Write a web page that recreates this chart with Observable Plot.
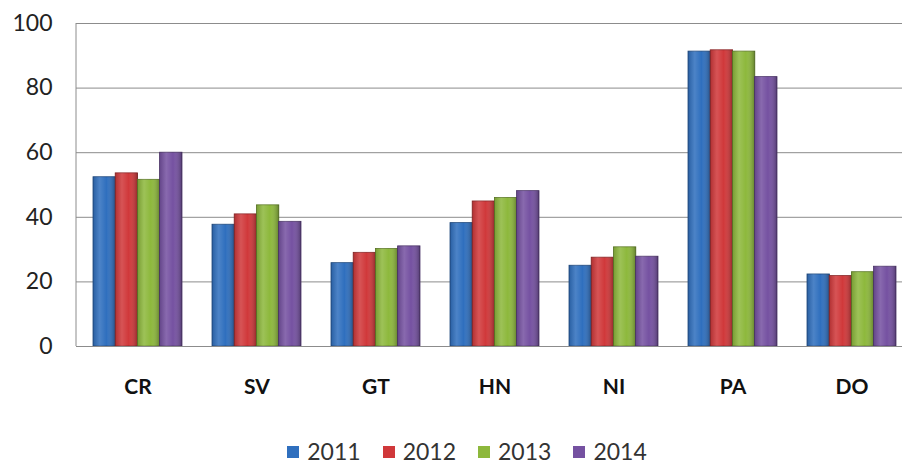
<!DOCTYPE html>
<html>
<head>
<meta charset="utf-8">
<script src="https://cdn.jsdelivr.net/npm/d3@7"></script>
<script src="https://cdn.jsdelivr.net/npm/@observablehq/plot@0.6"></script>
<style>
  body { margin: 0; background: white; overflow: hidden; font-family: Lato, "Open Sans", sans-serif; }
  #legend { display: flex; justify-content: center; gap: 22px; margin-top: 30px; padding-left: 32px; font-size: 23px; color: #333; line-height: 1; }
  #legend span.item { display: flex; align-items: center; gap: 8px; }
  #legend span.sw { width: 12px; height: 12px; display: inline-block; }
</style>
</head>
<body>
<div id="chart"></div>
<div id="legend"></div>
<script>
const countries = ["CR", "SV", "GT", "HN", "NI", "PA", "DO"];
const years = ["2011", "2012", "2013", "2014"];
const colors = ["#2f6fbe", "#d0383a", "#8db83c", "#7551a1"];

const v2011 = [52.4, 37.7, 25.8, 38.2, 25.0, 91.3, 22.3];
const v2012 = [53.6, 40.9, 29.0, 44.9, 27.5, 91.7, 21.8];
const v2013 = [51.6, 43.7, 30.2, 46.0, 30.7, 91.3, 23.0];
const v2014 = [60.0, 38.6, 31.0, 48.1, 27.8, 83.4, 24.7];
const series = [v2011, v2012, v2013, v2014];

let data = [];
years.forEach((yr, i) => {
  countries.forEach((c, j) => {
    data.push({country: c, year: yr, value: series[i][j]});
  });
});

const barW = 22.2;
const SHINE = "#010203"; // placeholder, swapped for the gradient after render
let marks = [
  Plot.gridY([0, 20, 40, 60, 80, 100], {stroke: "#8c8c8c", strokeOpacity: 1})
];
years.forEach((yr, i) => {
  let d = data.filter(r => r.year === yr);
  let opts = {x: "country", y: "value", insetLeft: i * barW, insetRight: (3 - i) * barW};
  marks.push(Plot.barY(d, {...opts, fill: colors[i], stroke: d3.color(colors[i]).darker(1.2).formatHex(), strokeWidth: 0.8}));
  marks.push(Plot.barY(d, {...opts, fill: SHINE}));
});
marks.push(Plot.ruleY([0], {stroke: "#8c8c8c"}));
marks.push(Plot.axisY({ticks: [0, 20, 40, 60, 80, 100], tickSize: 0, tickPadding: 24, fontSize: 23, fill: "#222", label: null}));
marks.push(Plot.axisX({tickSize: 0, tickPadding: 33, fontSize: 21, fontWeight: "bold", fill: "#111", label: null}));

let chart = Plot.plot({
  width: 902,
  height: 410,
  marginLeft: 76,
  marginRight: -11,
  marginTop: 23,
  marginBottom: 64,
  style: {fontFamily: "Lato, 'Open Sans', sans-serif", overflow: "hidden"},
  x: {domain: countries, paddingInner: 0.25, paddingOuter: 0.125},
  y: {domain: [0, 100]},
  marks: marks
});

// left axis line
d3.select(chart).append("line")
  .attr("x1", 76).attr("x2", 76).attr("y1", 23).attr("y2", 346)
  .attr("stroke", "#8c8c8c");

let defs = d3.select(chart).insert("defs", ":first-child");
let g = defs.append("linearGradient").attr("id", "shine").attr("x1", 0).attr("x2", 1).attr("y1", 0).attr("y2", 0);
g.append("stop").attr("offset", "0%").attr("stop-color", "#000").attr("stop-opacity", 0.15);
g.append("stop").attr("offset", "30%").attr("stop-color", "#fff").attr("stop-opacity", 0.14);
g.append("stop").attr("offset", "60%").attr("stop-color", "#fff").attr("stop-opacity", 0.0);
g.append("stop").attr("offset", "100%").attr("stop-color", "#000").attr("stop-opacity", 0.3);
d3.select(chart).selectAll(`[fill="${SHINE}"]`).attr("fill", "url(#shine)");

d3.select('#chart').append(() => chart);

let leg = d3.select('#legend');
years.forEach((yr, i) => {
  let it = leg.append("span").attr("class", "item");
  it.append("span").attr("class", "sw").style("background", colors[i]);
  it.append("span").text(yr);
});
</script>
</body>
</html>
